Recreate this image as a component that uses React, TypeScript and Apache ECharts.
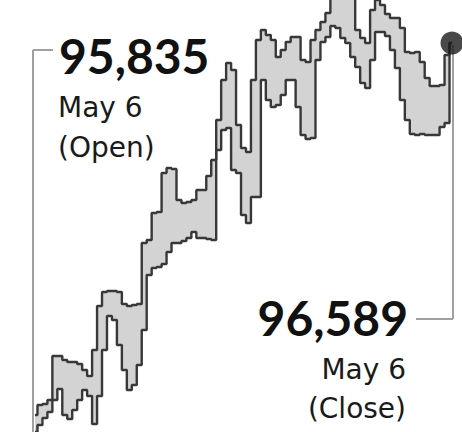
import React, { useEffect, useRef } from "react";
import * as echarts from "echarts";

// Intraday session samples (relative level units)
const highs: number[] = [
  17, 27, 28, 32, 76, 76, 72, 70, 70, 68,
  62, 56, 82, 126, 140, 141, 141, 140, 128, 126,
  127, 128, 189, 192, 219, 220, 259, 264, 263, 232,
  229, 230, 232, 242, 242, 256, 272, 312, 352, 369,
  362, 307, 284, 280, 352, 392, 402, 397, 392, 375,
  382, 390, 395, 395, 372, 370, 392, 402, 410, 419,
  437, 442, 444, 442, 437, 402, 394, 389, 422, 432,
  427, 418, 414, 414, 404, 380, 379, 380, 370, 354,
  346, 346, 347, 377, 389,
];
const lows: number[] = [
  0, 7, 14, 20, 32, 43, 17, 13, 22, 32,
  42, 36, 8, 36, 82, 116, 112, 87, 62, 42,
  47, 67, 102, 157, 164, 165, 168, 180, 189, 189,
  191, 194, 200, 194, 194, 193, 192, 282, 302, 304,
  262, 259, 217, 209, 235, 235, 352, 332, 325, 327,
  337, 352, 352, 325, 297, 293, 294, 372, 390, 395,
  406, 404, 394, 389, 375, 365, 349, 344, 372, 400,
  400, 396, 382, 364, 332, 312, 298, 297, 298, 297,
  297, 297, 305, 309, 389,
];
const openLabel = "95,835";
const closeLabel = "96,589";
const dateLabel = "May 6";
const openTag = "(Open)";
const closeTag = "(Close)";

const categories = highs.map((_, i) => `t${i}`);

export default function App() {
  const ref = useRef<HTMLDivElement>(null);
  useEffect(() => {
    if (!ref.current) return;
    const chart = echarts.init(ref.current, null, { renderer: "svg" });
    const diff = highs.map((h, i) => h - lows[i]);
    const last = highs.length - 1;
    const lineColor = "#383838";
    const numFont = "Lato";
    const labFont = "DejaVu Sans";
    const connector = { stroke: "#a0a0a0", lineWidth: 2 };
    chart.setOption({
      animation: false,
      backgroundColor: "#ffffff",
      grid: { left: 35, right: 10, top: 0, bottom: 0 },
      xAxis: {
        type: "category",
        data: categories,
        boundaryGap: false,
        show: false,
      },
      yAxis: { type: "value", min: 0, max: 432, show: false },
      series: [
        {
          type: "line",
          data: lows,
          stack: "band",
          step: "middle",
          symbol: "none",
          clip: true,
          lineStyle: { color: lineColor, width: 2.4 },
          z: 3,
        },
        {
          type: "line",
          data: diff,
          stack: "band",
          step: "middle",
          symbol: "none",
          clip: true,
          lineStyle: { color: lineColor, width: 2.4 },
          areaStyle: { color: "#d3d3d3", opacity: 1 },
          z: 2,
        },
        {
          type: "scatter",
          data: [[last, highs[last]]],
          symbol: "circle",
          symbolSize: 23,
          itemStyle: { color: "#1c1c1c" },
          z: 5,
        },
      ],
      graphic: [
        { type: "line", shape: { x1: 33, y1: 50, x2: 33, y2: 432 }, style: connector },
        { type: "line", shape: { x1: 33, y1: 50, x2: 53, y2: 50 }, style: connector },
        { type: "line", shape: { x1: 453, y1: 45, x2: 453, y2: 319 }, style: connector },
        { type: "line", shape: { x1: 416, y1: 319, x2: 453, y2: 319 }, style: connector },
        { type: "text", x: 59, y: 55, style: { text: openLabel, fontFamily: numFont, fontWeight: "bold", fontSize: 48, fill: "#111", verticalAlign: "middle", align: "left" } },
        { type: "text", x: 58, y: 107, style: { text: dateLabel, fontFamily: labFont, fontSize: 28, fill: "#1a1a1a", verticalAlign: "middle", align: "left" } },
        { type: "text", x: 58, y: 147, style: { text: openTag, fontFamily: labFont, fontSize: 28, fill: "#1a1a1a", verticalAlign: "middle", align: "left" } },
        { type: "text", x: 408, y: 317, style: { text: closeLabel, fontFamily: numFont, fontWeight: "bold", fontSize: 48, fill: "#111", verticalAlign: "middle", align: "right" } },
        { type: "text", x: 406, y: 369, style: { text: dateLabel, fontFamily: labFont, fontSize: 28, fill: "#1a1a1a", verticalAlign: "middle", align: "right" } },
        { type: "text", x: 406, y: 408, style: { text: closeTag, fontFamily: labFont, fontSize: 28, fill: "#1a1a1a", verticalAlign: "middle", align: "right" } },
      ],
    });
    return () => chart.dispose();
  }, []);
  return <div ref={ref} style={{ width: 462, height: 432, position: "absolute", left: 0, top: 0 }} />;
}
